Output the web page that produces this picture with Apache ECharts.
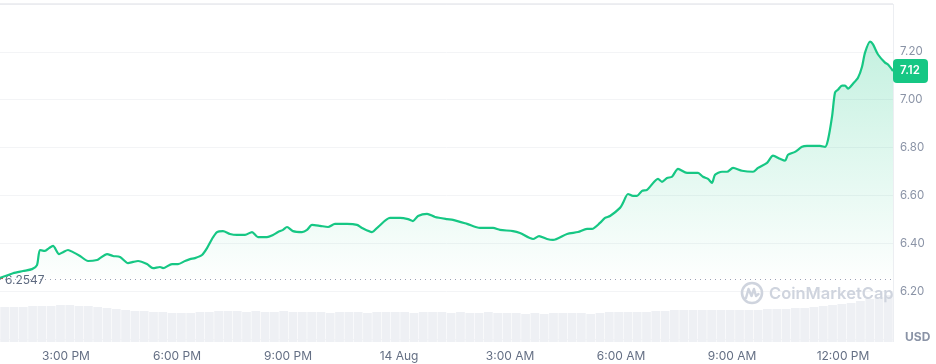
<!DOCTYPE html>
<html>
<head>
<meta charset="utf-8">
<script src="https://cdn.jsdelivr.net/npm/echarts@6/dist/echarts.min.js"></script>
<style>
html,body{margin:0;padding:0;background:#fff;}
#chart{width:936px;height:364px;}
</style>
</head>
<body>
<div id="chart"></div>
<script>
// Time in hours since 13 Aug 00:00 (24 = 14 Aug 00:00)
var times = [13.216,13.568,13.838,14.081,14.216,14.297,14.432,14.541,14.649,14.811,14.919,15.054,15.189,15.378,15.595,15.838,15.919,16.108,16.270,16.459,16.676,16.811,16.946,17.189,17.351,17.541,17.622,17.865,18.027,18.216,18.351,18.486,18.676,18.811,18.946,19.081,19.243,19.432,19.622,19.838,20.027,20.189,20.432,20.595,20.730,20.865,20.973,21.135,21.378,21.514,21.649,21.865,22.081,22.270,22.595,22.865,23.000,23.270,23.432,23.757,24.027,24.243,24.378,24.514,24.757,24.973,25.297,25.459,25.838,26.189,26.541,26.730,27.081,27.270,27.622,27.784,28.000,28.162,28.541,28.838,29.081,29.216,29.432,29.568,29.703,29.973,30.054,30.189,30.324,30.432,30.568,30.703,31.000,31.108,31.243,31.378,31.541,31.784,32.081,32.216,32.351,32.459,32.541,32.730,32.865,33.027,33.270,33.568,33.703,33.946,34.108,34.297,34.432,34.514,34.703,34.892,35.027,35.378,35.514,35.595,35.703,35.784,35.865,35.973,36.054,36.135,36.270,36.405,36.514,36.595,36.730,36.811,36.946,37.135,37.216,37.351];
var prices = [6.255,6.275,6.284,6.292,6.309,6.372,6.368,6.380,6.389,6.355,6.363,6.372,6.363,6.347,6.326,6.330,6.338,6.355,6.347,6.343,6.317,6.322,6.326,6.313,6.296,6.301,6.296,6.313,6.313,6.326,6.334,6.338,6.351,6.380,6.418,6.447,6.451,6.439,6.435,6.435,6.447,6.426,6.426,6.435,6.447,6.456,6.468,6.451,6.447,6.456,6.477,6.473,6.468,6.481,6.481,6.477,6.464,6.447,6.468,6.506,6.506,6.501,6.493,6.514,6.523,6.510,6.501,6.498,6.481,6.464,6.464,6.456,6.451,6.443,6.418,6.430,6.418,6.414,6.439,6.447,6.460,6.460,6.485,6.506,6.514,6.548,6.569,6.606,6.598,6.598,6.619,6.623,6.669,6.657,6.673,6.678,6.711,6.694,6.694,6.678,6.669,6.652,6.686,6.699,6.699,6.715,6.703,6.699,6.715,6.736,6.766,6.753,6.745,6.770,6.782,6.803,6.807,6.807,6.803,6.833,6.929,7.030,7.042,7.059,7.059,7.046,7.067,7.092,7.138,7.197,7.243,7.231,7.189,7.155,7.147,7.120];
// Volume per 15-minute bucket (relative units)
var volumes = [35,35,35,36,36,36,37,37,36,36,35,34,33,32,31,31,30,30,29,29,29,30,30,31,31,31,30,31,30,30,31,30,30,30,30,29,30,30,30,29,30,30,30,30,29,30,30,30,29,30,29,29,30,29,29,29,28,29,28,29,29,29,29,28,29,30,30,30,30,30,31,31,32,32,32,32,32,32,32,32,32,32,33,33,33,34,34,35,36,37,38,39,41,43,45,47];
var openPrice = 6.2547;
var lastPrice = 7.12;
var tickValues = [15,18,21,24,27,30,33,36];
var tickLabels = ['3:00 PM','6:00 PM','9:00 PM','14 Aug','3:00 AM','6:00 AM','9:00 AM','12:00 PM'];
var yMin = 6.0, yMax = 7.4, yStep = 0.2;

var xMin = times[0], xMax = times[times.length - 1];
var lineData = times.map(function (t, i) { return [t, prices[i]]; });
var volCats = volumes.map(function (v, i) { return i; });
var FONT = 'Inter, "Noto Sans", sans-serif';

var chart = echarts.init(document.getElementById('chart'), null, {renderer: 'canvas'});
chart.setOption({
  animation: false,
  backgroundColor: '#ffffff',
  grid: [
    {left: 0, right: 43, top: 4, bottom: 25},
    {left: 0, right: 43, top: 282, bottom: 22}
  ],
  xAxis: [
    {
      type: 'value', gridIndex: 0, min: xMin, max: xMax,
      axisLine: {show: false}, axisTick: {show: false}, splitLine: {show: false},
      axisLabel: {
        customValues: tickValues,
        margin: 11,
        color: '#646f84', fontSize: 12, fontFamily: FONT,
        formatter: function (v) {
          for (var i = 0; i < tickValues.length; i++) {
            if (Math.abs(tickValues[i] - v) < 1e-6) return tickLabels[i];
          }
          return '';
        }
      }
    },
    {
      type: 'category', gridIndex: 1, data: volCats, show: false
    }
  ],
  yAxis: [
    {
      type: 'value', gridIndex: 0, position: 'right', min: yMin, max: yMax, interval: yStep,
      axisLine: {show: false}, axisTick: {show: false},
      splitLine: {show: true, lineStyle: {color: '#f3f4f6', width: 1}},
      axisLabel: {
        margin: 7, color: '#8a93a6', fontSize: 11.5, fontFamily: FONT,
        formatter: function (v) {
          if (v < 6.1 || v > 7.3) return '';
          return v.toFixed(2);
        }
      }
    },
    {
      type: 'value', gridIndex: 1, min: 0, max: 60, show: false
    }
  ],
  series: [
    {
      type: 'bar', xAxisIndex: 1, yAxisIndex: 1, data: volumes,
      barCategoryGap: '6%', itemStyle: {color: '#eef0f4'}, silent: true, z: 1
    },
    {
      type: 'line', xAxisIndex: 0, yAxisIndex: 0, data: lineData,
      showSymbol: false, smooth: 0.25, z: 3,
      lineStyle: {color: '#16c784', width: 2.2},
      areaStyle: {
        origin: openPrice,
        color: new echarts.graphic.LinearGradient(0, 0, 0, 1, [
          {offset: 0, color: 'rgba(22,199,132,0.36)'},
          {offset: 1, color: 'rgba(22,199,132,0.01)'}
        ])
      },
      markLine: {
        silent: true, symbol: 'none', label: {show: false},
        lineStyle: {color: '#9aa3b5', type: [1, 4], width: 1},
        data: [{yAxis: openPrice}]
      }
    }
  ]
});

function addGraphics() {
  var yBase = chart.convertToPixel({yAxisIndex: 0}, openPrice);
  var yLast = chart.convertToPixel({yAxisIndex: 0}, lastPrice);
  var yTop = chart.convertToPixel({yAxisIndex: 0}, yMax);
  var yBot = chart.convertToPixel({yAxisIndex: 0}, yMin);
  var xRight = chart.convertToPixel({xAxisIndex: 0}, xMax);
  var cx = 752, cy = 293;
  chart.setOption({
    graphic: [
      {type: 'line', shape: {x1: 0, y1: yTop, x2: xRight, y2: yTop}, style: {stroke: '#e8eaee', lineWidth: 1.5}, z: 10},
      {type: 'line', shape: {x1: xRight + 0.5, y1: yTop, x2: xRight + 0.5, y2: yBot + 3}, style: {stroke: '#eceef2', lineWidth: 1}, z: 10},
      {type: 'rect', shape: {x: 0, y: yBase - 1, width: 3, height: 2}, style: {fill: '#ea3943'}, z: 2},
      {type: 'text', x: 5, y: yBase + 2, style: {text: openPrice.toString(), fill: '#5e6a80', font: '12px ' + FONT, verticalAlign: 'middle', align: 'left', backgroundColor: '#fff', padding: [0, 3, 0, 0]}, z: 2},
      {type: 'rect', shape: {x: xRight, y: yLast - 12, width: 35, height: 24, r: 4}, style: {fill: '#16c784'}, z: 11},
      {type: 'text', x: xRight + 7, y: yLast, style: {text: lastPrice.toFixed(2), fill: '#ffffff', font: '600 11.5px ' + FONT, verticalAlign: 'middle', align: 'left'}, z: 12},
      {type: 'text', x: 905, y: 337, style: {text: 'USD', fill: '#8a93a6', font: 'bold 12px ' + FONT, verticalAlign: 'middle', align: 'left'}, z: 11},
      // watermark
      {type: 'circle', shape: {cx: cx, cy: cy, r: 10}, style: {fill: 'none', stroke: '#cfd4de', lineWidth: 2.6}, z: 11},
      {type: 'polyline', shape: {points: [[cx - 6, cy + 5], [cx - 3.5, cy - 4], [cx - 0.5, cy + 3], [cx + 2, cy - 4], [cx + 4, cy + 3], [cx + 6.5, cy + 1]]}, style: {fill: 'none', stroke: '#cfd4de', lineWidth: 2.4, lineJoin: 'round', lineCap: 'round'}, z: 11},
      {type: 'text', x: 769, y: cy + 1, style: {text: 'CoinMarketCap', fill: '#cfd4de', font: '600 16.5px ' + FONT, verticalAlign: 'middle', align: 'left'}, z: 11}
    ]
  });
}
addGraphics();
</script>
</body>
</html>
